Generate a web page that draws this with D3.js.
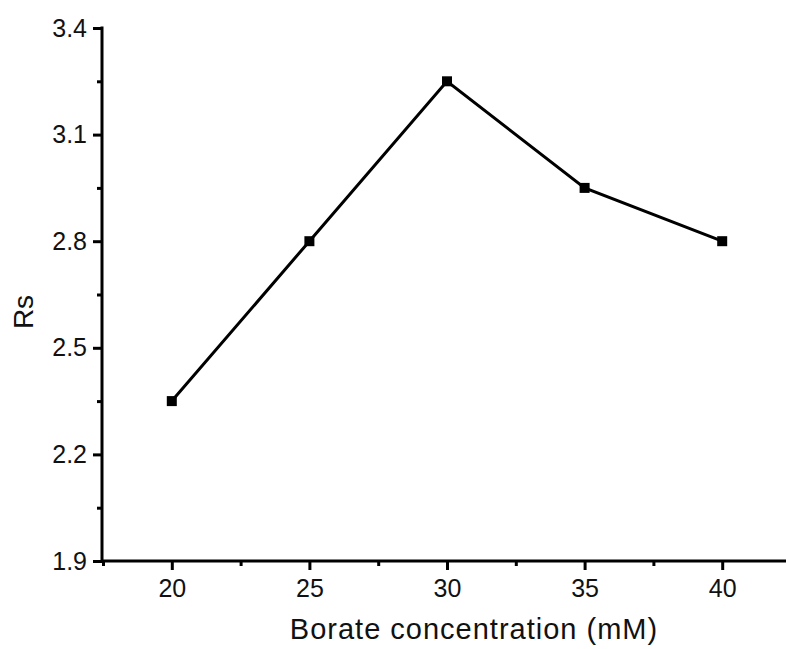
<!DOCTYPE html>
<html>
<head>
<meta charset="utf-8">
<script src="https://cdn.jsdelivr.net/npm/d3@7"></script>
<style>
body{margin:0;background:#fff;}
svg{display:block;font-family:"Liberation Sans",Arial,sans-serif;}
</style>
</head>
<body>
<svg id="chart" width="786" height="649"></svg>
<script>
const concentrations = [20, 25, 30, 35, 40];
const rsValues = [2.35, 2.80, 3.25, 2.95, 2.80];
const xTicks = [20, 25, 30, 35, 40];
const xMinorTicks = [17.5, 22.5, 27.5, 32.5, 37.5, 42.5];
const yTicks = [1.9, 2.2, 2.5, 2.8, 3.1, 3.4];
const yMinorTicks = [2.05, 2.35, 2.65, 2.95, 3.25];

(function () {
const svg = d3.select("#chart");
const mLeft = 102, mTop = 28, mBottom = 561;
const x = d3.scaleLinear().domain([17.5, 42.5]).range([mLeft + 1, mLeft + 1 + 688]);
const y = d3.scaleLinear().domain([1.9, 3.4]).range([mBottom, mTop]);

// x axis
const xAxis = d3.axisBottom(x).tickValues(xTicks).tickFormat(d3.format("d")).tickSize(9).tickSizeOuter(0).tickPadding(9);
const gx = svg.append("g").attr("transform", `translate(0,${mBottom})`).call(xAxis);
gx.select(".domain").attr("stroke-width", 3).attr("d", `M${mLeft - 1},0H800`);
gx.selectAll(".tick line").attr("stroke-width", 3);
gx.selectAll(".tick text").attr("font-size", 25).attr("fill", "#111");
svg.append("g").attr("transform", `translate(0,${mBottom})`)
  .call(d3.axisBottom(x).tickValues(xMinorTicks).tickSize(5).tickFormat(""))
  .call(g => { g.select(".domain").remove(); g.selectAll("line").attr("stroke-width", 3); });

// y axis
const yAxis = d3.axisLeft(y).tickValues(yTicks).tickFormat(d3.format(".1f")).tickSize(9).tickSizeOuter(0).tickPadding(6);
const gy = svg.append("g").attr("transform", `translate(${mLeft},0)`).call(yAxis);
gy.select(".domain").attr("stroke-width", 3).attr("d", `M0,${mBottom + 1.5}V${mTop - 1.5}`);
gy.selectAll(".tick line").attr("stroke-width", 3);
gy.selectAll(".tick text").attr("font-size", 25).attr("fill", "#111");
svg.append("g").attr("transform", `translate(${mLeft},0)`)
  .call(d3.axisLeft(y).tickValues(yMinorTicks).tickSize(5).tickFormat(""))
  .call(g => { g.select(".domain").remove(); g.selectAll("line").attr("stroke-width", 3); });

// line
const data = concentrations.map((c, i) => ({c, v: rsValues[i]}));
svg.append("path").datum(data)
  .attr("fill", "none").attr("stroke", "#000").attr("stroke-width", 3)
  .attr("d", d3.line().x(d => x(d.c)).y(d => y(d.v)));
svg.append("g").selectAll("rect").data(data).join("rect")
  .attr("x", d => x(d.c) - 5).attr("y", d => y(d.v) - 5)
  .attr("width", 10).attr("height", 10).attr("fill", "#000");

// titles
svg.append("text").attr("x", 474).attr("y", 639).attr("text-anchor", "middle")
  .attr("font-size", 29).attr("letter-spacing", 1).attr("fill", "#111").text("Borate concentration (mM)");
svg.append("text").attr("transform", "translate(33,312) rotate(-90)").attr("text-anchor", "middle")
  .attr("font-size", 28).attr("fill", "#111").text("Rs");
})();
</script>
</body>
</html>
